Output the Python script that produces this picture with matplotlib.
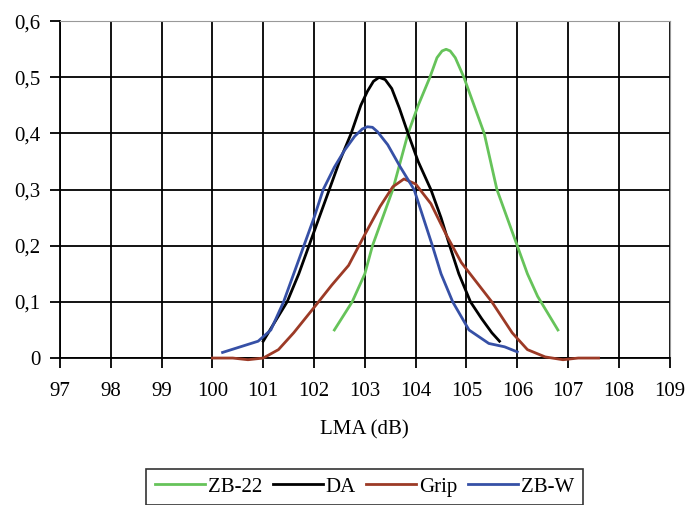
import matplotlib
matplotlib.use("Agg")
import matplotlib.pyplot as plt

plt.rcParams['font.family'] = ['Liberation Serif', 'DejaVu Serif']

# Data
zb22_x = [102.4, 102.75, 103.0, 103.15, 103.35, 103.55, 103.85, 104.05, 104.28, 104.42, 104.52, 104.6, 104.68, 104.78, 104.95, 105.15, 105.35, 105.6, 105.8, 106.0, 106.2, 106.4, 106.6, 106.8]
zb22_y = [0.05, 0.10, 0.15, 0.20, 0.25, 0.30, 0.40, 0.45, 0.50, 0.535, 0.547, 0.55, 0.547, 0.535, 0.50, 0.45, 0.40, 0.30, 0.25, 0.20, 0.15, 0.11, 0.08, 0.05]

da_x = [101.0, 101.2, 101.47, 101.7, 101.9, 102.1, 102.3, 102.5, 102.73, 102.92, 103.05, 103.17, 103.28, 103.4, 103.53, 103.68, 103.85, 104.05, 104.3, 104.5, 104.67, 104.85, 105.08, 105.3, 105.5, 105.65]
da_y = [0.03, 0.06, 0.10, 0.15, 0.20, 0.25, 0.30, 0.35, 0.40, 0.45, 0.475, 0.493, 0.50, 0.496, 0.48, 0.445, 0.40, 0.35, 0.30, 0.25, 0.20, 0.15, 0.10, 0.07, 0.045, 0.03]

grip_x = [100.0, 100.4, 100.7, 101.0, 101.3, 101.6, 102.0, 102.35, 102.68, 103.0, 103.3, 103.55, 103.77, 104.0, 104.3, 104.6, 104.9, 105.2, 105.5, 105.9, 106.2, 106.55, 106.9, 107.2, 107.6]
grip_y = [0.0, 0.0, -0.003, 0.0, 0.015, 0.045, 0.09, 0.13, 0.165, 0.22, 0.27, 0.305, 0.319, 0.31, 0.275, 0.22, 0.17, 0.135, 0.10, 0.045, 0.015, 0.002, -0.003, 0.0, 0.0]

zbw_x = [100.2, 100.55, 100.9, 101.15, 101.4, 101.6, 101.8, 102.0, 102.18, 102.4, 102.6, 102.8, 102.95, 103.05, 103.15, 103.25, 103.45, 103.7, 103.97, 104.15, 104.33, 104.5, 104.73, 105.05, 105.44, 105.75, 106.0]
zbw_y = [0.01, 0.02, 0.03, 0.05, 0.10, 0.15, 0.20, 0.25, 0.30, 0.34, 0.37, 0.395, 0.408, 0.412, 0.411, 0.403, 0.38, 0.34, 0.30, 0.25, 0.20, 0.15, 0.10, 0.05, 0.026, 0.02, 0.011]

x_ticks = list(range(97, 110))
y_ticks = [0, 0.1, 0.2, 0.3, 0.4, 0.5, 0.6]
y_labels = ['0', '0,1', '0,2', '0,3', '0,4', '0,5', '0,6']

fig = plt.figure(figsize=(7, 5.05), dpi=100)
ax = fig.add_axes([0.0857, 0.291, 0.871, 0.667])

ax.plot(zb22_x, zb22_y, color='#66c35a', lw=2.0, label='ZB-22', zorder=3, clip_on=False)
ax.plot(da_x, da_y, color='black', lw=2.0, label='DA', zorder=3, clip_on=False)
ax.plot(grip_x, grip_y, color='#9c3a26', lw=2.0, label='Grip', zorder=3, clip_on=False)
ax.plot(zbw_x, zbw_y, color='#3650a6', lw=2.0, label='ZB-W', zorder=3, clip_on=False)

ax.set_xlim(97, 109)
ax.set_ylim(0, 0.6)
ax.set_xticks(x_ticks)
ax.set_yticks(y_ticks)
ax.set_yticklabels(y_labels)
ax.grid(True, color='black', lw=1.3)
ax.set_axisbelow(True)

for s in ['top', 'right']:
    ax.spines[s].set_color('#999999')
for s in ['left', 'bottom']:
    ax.spines[s].set_color('black')
    ax.spines[s].set_linewidth(1.3)

ax.tick_params(axis='both', direction='out', length=7, width=1.3, labelsize=15)
ax.tick_params(axis='x', pad=10)
ax.tick_params(axis='y', pad=7)
ax.set_xlabel('LMA (dB)', fontsize=15, labelpad=14)

leg = fig.legend(loc='upper center', bbox_to_anchor=(0.521, 0.072), ncol=4,
                 fontsize=15, frameon=True, fancybox=False, edgecolor='black',
                 handlelength=2.4, handletextpad=0.15, columnspacing=0.5,
                 borderpad=0.4, borderaxespad=0)
leg.get_frame().set_linewidth(1.2)

fig.savefig('out.png', dpi=100)
